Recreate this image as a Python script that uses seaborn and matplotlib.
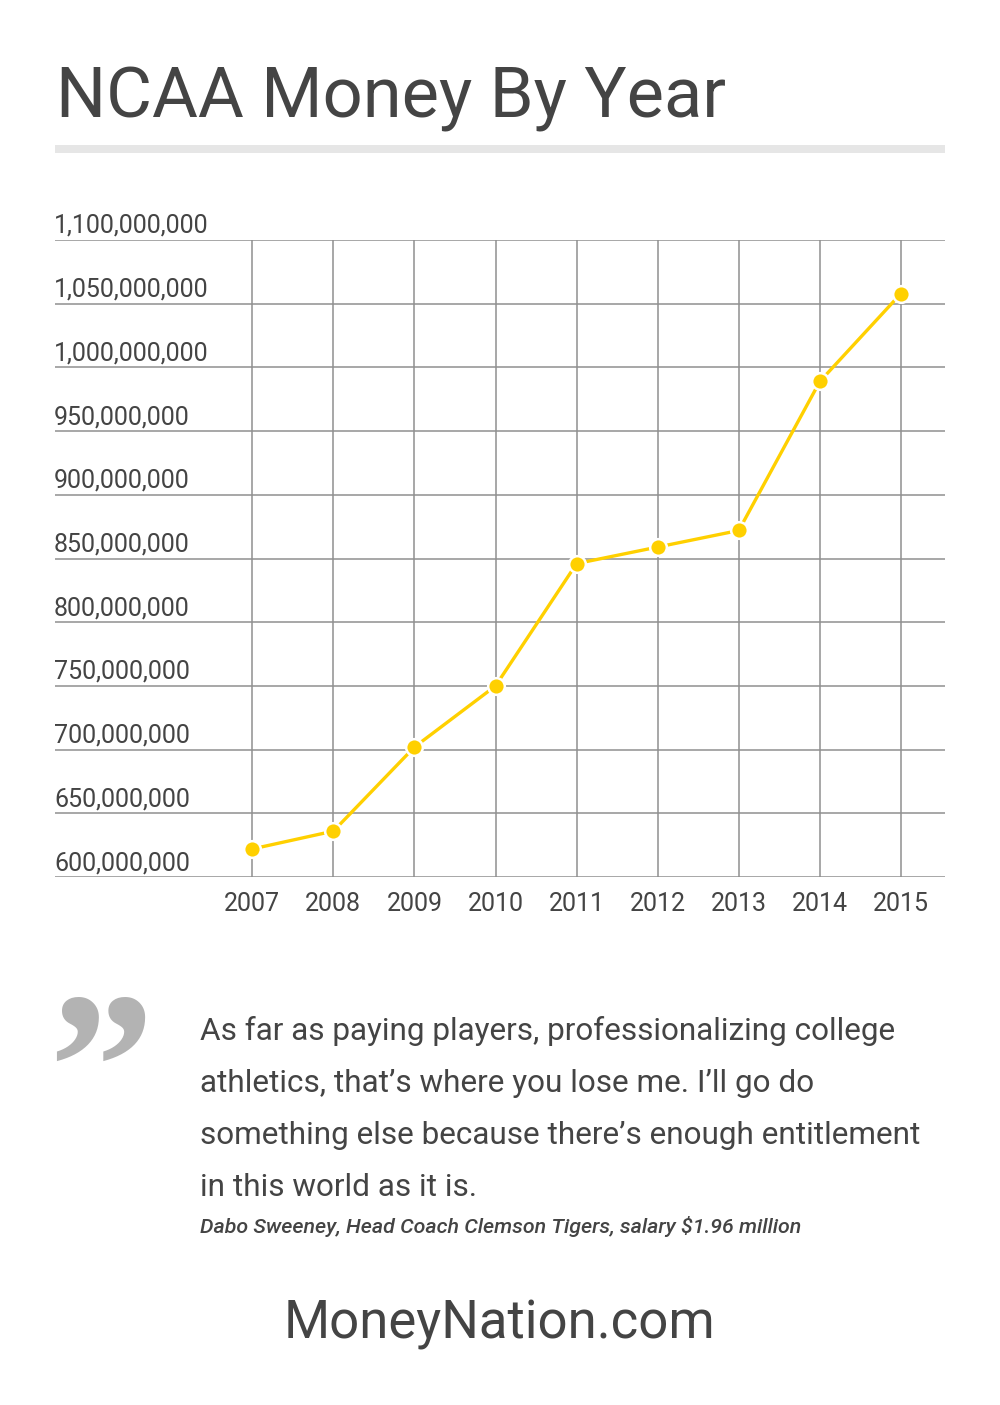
import matplotlib
matplotlib.use("Agg")
import matplotlib.pyplot as plt
import seaborn as sns
import pandas as pd
from matplotlib.patches import Rectangle
from matplotlib.transforms import offset_copy

years = [2007, 2008, 2009, 2010, 2011, 2012, 2013, 2014, 2015]
money = [622e6, 636e6, 702e6, 750e6, 846e6, 859e6, 872e6, 989e6, 1058e6]
ytick_values = [600e6, 650e6, 700e6, 750e6, 800e6, 850e6, 900e6, 950e6,
                1000e6, 1050e6, 1100e6]
title = "NCAA Money By Year"
quote_lines = [
    "As far as paying players, professionalizing college",
    "athletics, that\u2019s where you lose me. I\u2019ll go do",
    "something else because there\u2019s enough entitlement",
    "in this world as it is.",
]
attribution = "Dabo Sweeney, Head Coach Clemson Tigers, salary $1.96 million"
footer = "MoneyNation.com"

TEXT = "#444444"
GRID = "#8f8f8f"
GOLD = "#FFD000"

sns.set_theme(style="white")
plt.rcParams["font.family"] = ["Roboto", "DejaVu Sans"]

W, H = 1000, 1405
fig = plt.figure(figsize=(W / 100, H / 100), dpi=100)
fig.patch.set_facecolor("white")


def fx(x):
    return x / W


def fy(y):
    return 1 - y / H


ax = fig.add_axes([fx(55), fy(877), fx(945) - fx(55), fy(240) - fy(877)])
df = pd.DataFrame({"year": years, "money": money})
sns.lineplot(data=df, x="year", y="money", ax=ax, color=GOLD, linewidth=2.4,
             marker="o", markersize=12, markeredgecolor="white",
             markeredgewidth=1.8, zorder=5)

ax.set_xlim(2004.567, 2015.543)
ax.set_ylim(600e6, 1100e6)
ax.set_xticks(years)
ax.set_xticklabels([str(y) for y in years])
ax.set_yticks(ytick_values)
ax.set_yticklabels([])
ax.set_xlabel("")
ax.set_ylabel("")
for s in ax.spines.values():
    s.set_visible(False)
ax.grid(False)
for v in ytick_values:
    ax.axhline(v, color=GRID, linewidth=1.1, zorder=1)
for yr in years:
    ax.axvline(yr, color=GRID, linewidth=1.1, zorder=1)
ax.tick_params(axis="x", length=0, pad=11, labelsize=18, labelcolor=TEXT)
ax.tick_params(axis="y", length=0)

ytr = offset_copy(ax.get_yaxis_transform(), fig=fig, x=-1, y=7, units="dots")
for v in ytick_values:
    ax.text(0.0, v, f"{int(v):,}", transform=ytr, ha="left", va="baseline",
            fontsize=18, color=TEXT, clip_on=False)

# Title and bar
fig.text(fx(56), fy(118), title, ha="left", va="baseline", fontsize=50.7,
         color=TEXT)
fig.add_artist(Rectangle((fx(55), fy(153)), fx(945) - fx(55), 8 / H,
                         transform=fig.transFigure, color="#e6e6e6", lw=0))

# Quote mark
fig.text(fx(48), fy(1138), "\u201d", ha="left", va="baseline", fontsize=152,
         color="#b3b3b3", family=["Liberation Serif"], fontweight="bold")

# Quote text
for i, line in enumerate(quote_lines):
    fig.text(fx(200), fy(1040 + 52 * i), line, ha="left", va="baseline",
             fontsize=22.7, color=TEXT)
fig.text(fx(200), fy(1233), attribution, ha="left", va="baseline",
         fontsize=15.4, color=TEXT, style="italic", fontweight="medium")

fig.text(0.5, fy(1338), footer, ha="center", va="baseline", fontsize=38,
         color=TEXT)

fig.savefig("out.png", dpi=100, facecolor="white")
